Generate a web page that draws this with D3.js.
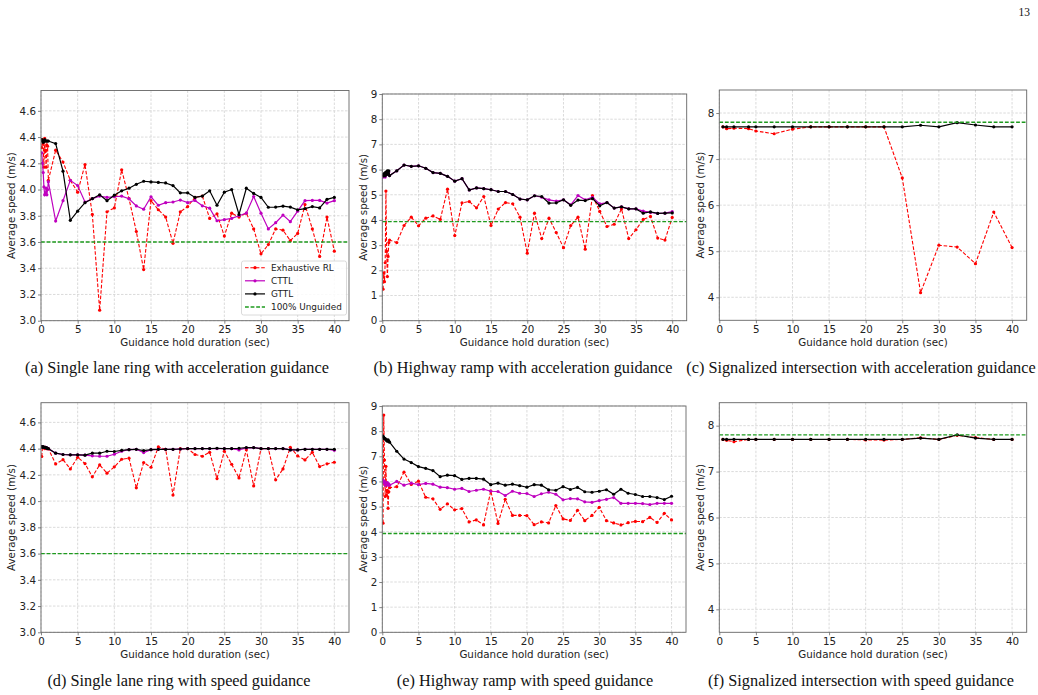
<!DOCTYPE html>
<html>
<head>
<meta charset="utf-8">
<script src="https://cdn.jsdelivr.net/npm/d3@7"></script>
<style>
body { margin: 0; background: #fff; }
</style>
</head>
<body>
<script>
// x positions (guidance hold duration, sec)
var xDense = [0.1, 0.2, 0.3, 0.4, 0.5, 0.6, 0.7, 0.8, 0.9,
  1, 2, 3, 4, 5, 6, 7, 8, 9, 10, 11, 12, 13, 14, 15, 16, 17, 18, 19, 20,
  21, 22, 23, 24, 25, 26, 27, 28, 29, 30, 31, 32, 33, 34, 35, 36, 37, 38, 39, 40];
var xSignal = [0.5, 1, 2, 4, 5, 7.5, 10, 12.5, 15, 17.5, 20, 22.5, 25, 27.5, 30, 32.5, 35, 37.5, 40];

// (a) ring, acceleration guidance
var ringAccRL = [4.32, 4.38, 4.35, 4.17, 4.39, 4.30, 4.17, 4.34, 4.33,
  4.07, 4.30, 4.21, 4.07, 3.98, 4.19, 3.81, 3.08, 3.83, 3.86,
  4.15, 3.93, 3.68, 3.39, 3.915, 3.846, 3.79, 3.59, 3.83, 3.87,
  3.94, 3.95, 3.78, 3.815, 3.645, 3.82, 3.79, 3.82, 3.70, 3.51,
  3.58, 3.70, 3.69, 3.61, 3.665, 3.885, 3.70, 3.49, 3.79, 3.53];
var ringAccCTTL = [4.28, 4.20, 4.13, 4.02, 3.96, 3.97, 4.01, 3.96, 4.00,
  4.06, 3.76, 3.915, 4.07, 4.03, 3.905, 3.93, 3.95, 3.94, 3.945,
  3.95, 3.93, 3.875, 3.85, 3.945, 3.88, 3.90, 3.905, 3.92, 3.90,
  3.917, 3.876, 3.858, 3.762, 3.77, 3.78, 3.80, 3.82, 3.947, 3.82,
  3.70, 3.747, 3.805, 3.755, 3.835, 3.915, 3.917, 3.917, 3.897, 3.915];
var ringAccGTTL = [4.38, 4.37, 4.36, 4.37, 4.38, 4.37, 4.37, 4.37, 4.37,
  4.37, 4.35, 4.14, 3.765, 3.835, 3.90, 3.93, 3.96, 3.915, 3.957,
  3.99, 4.01, 4.04, 4.063, 4.058, 4.054, 4.05, 4.03, 3.975, 3.975,
  3.94, 3.95, 3.99, 3.88, 3.98, 4.00, 3.81, 4.01, 3.97, 3.94,
  3.865, 3.866, 3.873, 3.866, 3.845, 3.855, 3.87, 3.86, 3.925, 3.94];

// (b) highway ramp, acceleration guidance
var rampAccRL = [1.25, 1.9, 1.55, 2.3, 5.15, 2.75, 1.75, 2.55, 3.1,
  3.2, 3.1, 3.78, 4.11, 3.77, 4.07, 4.16, 4.02, 5.22, 3.38,
  4.68, 4.73, 4.48, 4.93, 3.78, 4.43, 4.69, 4.64, 4.11, 2.68,
  4.27, 3.26, 4.07, 3.50, 2.90, 3.78, 4.11, 2.84, 4.97, 4.34,
  3.74, 3.83, 4.44, 3.26, 3.61, 4.02, 4.14, 3.28, 3.20, 4.10];
var rampAccCTTL = [5.7, 5.75, 5.8, 5.7, 5.85, 5.8, 5.9, 5.85, 5.9,
  5.76, 5.95, 6.18, 6.13, 6.15, 6.05, 5.88, 5.85, 5.73, 5.54,
  5.64, 5.19, 5.27, 5.24, 5.20, 5.13, 5.13, 5.01, 4.83, 4.80,
  4.96, 4.90, 4.80, 4.75, 4.80, 4.60, 4.97, 4.80, 4.90, 4.64,
  4.69, 4.47, 4.52, 4.44, 4.44, 4.35, 4.30, 4.26, 4.27, 4.33];
var rampAccGTTL = [5.8, 5.75, 5.85, 5.75, 5.9, 5.8, 5.95, 5.85, 5.95,
  5.76, 5.95, 6.18, 6.13, 6.15, 6.05, 5.88, 5.85, 5.73, 5.54,
  5.64, 5.19, 5.27, 5.24, 5.20, 5.13, 5.13, 5.01, 4.83, 4.80,
  4.96, 4.93, 4.67, 4.68, 4.80, 4.58, 4.79, 4.77, 4.85, 4.56,
  4.69, 4.47, 4.52, 4.44, 4.44, 4.27, 4.32, 4.26, 4.27, 4.28];

// (c) signalized intersection, acceleration guidance
var sigAccRL = [7.70, 7.66, 7.67, 7.66, 7.61, 7.55, 7.65, 7.70, 7.70, 7.70,
  7.70, 7.70, 6.59, 4.10, 5.13, 5.09, 4.73, 5.85, 5.08];
var sigAccGTTL = [7.70, 7.70, 7.70, 7.70, 7.70, 7.70, 7.70, 7.70, 7.70, 7.70,
  7.70, 7.70, 7.70, 7.735, 7.70, 7.79, 7.74, 7.70, 7.70];

// (d) ring, speed guidance
var ringSpdRL = [4.34, 4.41, 4.41, 4.41, 4.40, 4.41, 4.40, 4.40, 4.40,
  4.40, 4.283, 4.316, 4.245, 4.334, 4.286, 4.185, 4.276, 4.213, 4.261,
  4.319, 4.327, 4.101, 4.294, 4.258, 4.413, 4.395, 4.046, 4.40, 4.40,
  4.355, 4.342, 4.372, 4.172, 4.38, 4.281, 4.177, 4.392, 4.116, 4.40,
  4.40, 4.162, 4.245, 4.41, 4.344, 4.314, 4.372, 4.263, 4.284, 4.296];
var ringSpdCTTL = [4.415, 4.41, 4.41, 4.41, 4.41, 4.41, 4.405, 4.405, 4.40,
  4.40, 4.365, 4.355, 4.353, 4.353, 4.35, 4.345, 4.342, 4.342, 4.357,
  4.38, 4.392, 4.395, 4.37, 4.392, 4.395, 4.395, 4.395, 4.397, 4.40,
  4.40, 4.40, 4.40, 4.40, 4.40, 4.40, 4.39, 4.405, 4.408, 4.40,
  4.40, 4.40, 4.40, 4.39, 4.39, 4.395, 4.395, 4.395, 4.395, 4.387];
var ringSpdGTTL = [4.415, 4.41, 4.415, 4.41, 4.41, 4.41, 4.405, 4.405, 4.40,
  4.40, 4.365, 4.355, 4.353, 4.353, 4.35, 4.365, 4.365, 4.38, 4.378,
  4.387, 4.392, 4.395, 4.385, 4.392, 4.395, 4.395, 4.395, 4.397, 4.40,
  4.40, 4.40, 4.40, 4.403, 4.40, 4.40, 4.403, 4.408, 4.408, 4.40,
  4.40, 4.40, 4.40, 4.39, 4.39, 4.395, 4.395, 4.395, 4.395, 4.395];

// (e) highway ramp, speed guidance
var rampSpdRL = [4.34, 8.64, 6.85, 5.4, 6.6, 5.45, 5.65, 4.93, 5.59,
  5.75, 5.79, 6.37, 5.88, 6.01, 5.37, 5.31, 4.89, 5.11, 4.87,
  4.92, 4.39, 4.47, 4.27, 5.63, 4.33, 5.29, 4.65, 4.65, 4.64,
  4.28, 4.39, 4.35, 5.04, 4.51, 4.45, 4.85, 4.44, 4.65, 4.97,
  4.44, 4.35, 4.27, 4.36, 4.41, 4.40, 4.57, 4.37, 4.73, 4.47];
var rampSpdCTTL = [6.05, 5.95, 6.0, 5.85, 5.95, 5.9, 5.95, 5.85, 5.9,
  5.85, 6.0, 5.85, 5.93, 5.87, 5.92, 5.89, 5.77, 5.75, 5.69,
  5.72, 5.60, 5.65, 5.69, 5.61, 5.60, 5.44, 5.61, 5.53, 5.52,
  5.40, 5.51, 5.57, 5.49, 5.27, 5.32, 5.31, 5.19, 5.17, 5.24,
  5.29, 5.36, 5.13, 5.13, 5.13, 5.12, 5.08, 5.13, 5.13, 5.13];
var rampSpdGTTL = [7.8, 7.75, 7.7, 7.7, 7.65, 7.65, 7.6, 7.65, 7.6,
  7.56, 7.2, 6.89, 6.75, 6.59, 6.52, 6.43, 6.19, 6.25, 6.23,
  6.08, 6.12, 6.12, 6.09, 5.87, 5.93, 5.85, 5.89, 5.83, 5.77,
  5.87, 5.85, 5.67, 5.65, 5.79, 5.68, 5.76, 5.59, 5.57, 5.61,
  5.67, 5.49, 5.69, 5.53, 5.48, 5.40, 5.40, 5.36, 5.28, 5.41];

// (f) signalized intersection, speed guidance
var sigSpdRL = [7.70, 7.68, 7.65, 7.70, 7.70, 7.70, 7.70, 7.70, 7.70, 7.70,
  7.69, 7.685, 7.70, 7.735, 7.70, 7.79, 7.74, 7.70, 7.70];
var sigSpdGTTL = [7.70, 7.70, 7.70, 7.70, 7.70, 7.70, 7.70, 7.70, 7.70, 7.70,
  7.70, 7.70, 7.70, 7.73, 7.70, 7.80, 7.73, 7.70, 7.70];

// 100% unguided reference speeds
var unguided = { a: 3.6, b: 3.93, c: 7.80, d: 3.6, e: 3.93, f: 7.80 };

var xTicks = [0, 5, 10, 15, 20, 25, 30, 35, 40];
var ringTicks = [3.0, 3.2, 3.4, 3.6, 3.8, 4.0, 4.2, 4.4, 4.6];
var rampTicks = [0, 1, 2, 3, 4, 5, 6, 7, 8, 9];
var sigTicks = [4, 5, 6, 7, 8];

var legendNames = ['Exhaustive RL', 'CTTL', 'GTTL', '100% Unguided'];

var captions = {
  a: '(a) Single lane ring with acceleration guidance',
  b: '(b) Highway ramp with acceleration guidance',
  c: '(c) Signalized intersection with acceleration guidance',
  d: '(d) Single lane ring with speed guidance',
  e: '(e) Highway ramp with speed guidance',
  f: '(f) Signalized intersection with speed guidance'
};

var styles = {
  rl:   { color: '#ff0000', dash: '3.6,1.8', marker: true, w: 1.1 },
  cttl: { color: '#bf00bf', dash: null, marker: true, w: 1.2 },
  gttl: { color: '#000000', dash: null, marker: true, w: 1.2 },
  ung:  { color: '#1e9a1e', dash: '3.8,1.8', marker: false, w: 1.3 }
};

var FONT = 'DejaVu Sans, sans-serif';
var SERIF = 'Liberation Serif, Times New Roman, serif';

var svg = d3.select('body').append('svg')
  .attr('width', 1038)
  .attr('height', 695)
  .style('background', '#fff');

svg.append('text')
  .attr('x', 1030).attr('y', 15.5)
  .attr('text-anchor', 'end')
  .attr('font-family', SERIF)
  .attr('font-size', 11.5)
  .attr('fill', '#111')
  .text('13');

var panels = [
  { id: 'a', l: 41, r: 349, t: 90.5, b: 320.7, ylim: [3.0, 4.755], ticks: ringTicks, fmt: '.1f', ylab: 12, cap: 177, capY: 373,
    series: [[xDense, ringAccRL, 'rl'], [xDense, ringAccCTTL, 'cttl'], [xDense, ringAccGTTL, 'gttl']], legend: true },
  { id: 'b', l: 382.3, r: 686.7, t: 94, b: 320.7, ylim: [0, 9], ticks: rampTicks, fmt: 'd', ylab: 364.5, cap: 523, capY: 373,
    series: [[xDense, rampAccRL, 'rl'], [xDense, rampAccCTTL, 'cttl'], [xDense, rampAccGTTL, 'gttl']] },
  { id: 'c', l: 719.3, r: 1026.7, t: 90, b: 320.3, ylim: [3.5, 8.5], ticks: sigTicks, fmt: 'd', ylab: 701.5, cap: 861, capY: 373,
    series: [[xSignal, sigAccRL, 'rl'], [xSignal, sigAccGTTL, 'gttl']] },
  { id: 'd', l: 41, r: 349, t: 402.7, b: 632.3, ylim: [3.0, 4.75], ticks: ringTicks, fmt: '.1f', ylab: 12, cap: 179, capY: 686,
    series: [[xDense, ringSpdRL, 'rl'], [xDense, ringSpdCTTL, 'cttl'], [xDense, ringSpdGTTL, 'gttl']] },
  { id: 'e', l: 382.3, r: 686, t: 406, b: 632.3, ylim: [0, 9], ticks: rampTicks, fmt: 'd', ylab: 364, cap: 525, capY: 686,
    series: [[xDense, rampSpdRL, 'rl'], [xDense, rampSpdCTTL, 'cttl'], [xDense, rampSpdGTTL, 'gttl']] },
  { id: 'f', l: 719.3, r: 1026.7, t: 402.7, b: 632.3, ylim: [3.5, 8.5], ticks: sigTicks, fmt: 'd', ylab: 701, cap: 861, capY: 686,
    series: [[xSignal, sigSpdRL, 'rl'], [xSignal, sigSpdGTTL, 'gttl']] }
];

panels.forEach(function(p) {
  var x = d3.scaleLinear().domain([0, 42]).range([p.l, p.r]);
  var y = d3.scaleLinear().domain(p.ylim).range([p.b, p.t]);
  var g = svg.append('g');

  // grid
  g.selectAll('.gx').data(xTicks).enter().append('line')
    .attr('x1', function(d) { return x(d); }).attr('x2', function(d) { return x(d); })
    .attr('y1', p.t).attr('y2', p.b)
    .attr('stroke', '#d2d2d2').attr('stroke-width', 0.8).attr('stroke-dasharray', '2.5,1.5');
  g.selectAll('.gy').data(p.ticks).enter().append('line')
    .attr('x1', p.l).attr('x2', p.r)
    .attr('y1', function(d) { return y(d); }).attr('y2', function(d) { return y(d); })
    .attr('stroke', '#d2d2d2').attr('stroke-width', 0.8).attr('stroke-dasharray', '2.5,1.5');

  var clipId = 'clip-' + p.id;
  g.append('clipPath').attr('id', clipId).append('rect')
    .attr('x', p.l).attr('y', p.t).attr('width', p.r - p.l).attr('height', p.b - p.t);
  var plot = g.append('g').attr('clip-path', 'url(#' + clipId + ')');

  var line = d3.line().x(function(d) { return x(d[0]); }).y(function(d) { return y(d[1]); });

  p.series.forEach(function(s) {
    var st = styles[s[2]];
    var pts = s[0].map(function(v, i) { return [v, s[1][i]]; });
    plot.append('path').datum(pts)
      .attr('d', line)
      .attr('fill', 'none')
      .attr('stroke', st.color)
      .attr('stroke-width', st.w)
      .attr('stroke-dasharray', st.dash);
    plot.selectAll(null).data(pts).enter().append('circle')
      .attr('cx', function(d) { return x(d[0]); })
      .attr('cy', function(d) { return y(d[1]); })
      .attr('r', 1.6)
      .attr('fill', st.color);
  });

  // unguided reference
  plot.append('line')
    .attr('x1', p.l).attr('x2', p.r)
    .attr('y1', y(unguided[p.id])).attr('y2', y(unguided[p.id]))
    .attr('stroke', styles.ung.color).attr('stroke-width', styles.ung.w)
    .attr('stroke-dasharray', styles.ung.dash);

  // frame
  g.append('rect')
    .attr('x', p.l).attr('y', p.t).attr('width', p.r - p.l).attr('height', p.b - p.t)
    .attr('fill', 'none').attr('stroke', '#666').attr('stroke-width', 0.9);

  var xAxis = g.append('g').attr('transform', 'translate(0,' + p.b + ')')
    .call(d3.axisBottom(x).tickValues(xTicks).tickSize(3).tickPadding(2).tickSizeOuter(0));
  var yAxis = g.append('g').attr('transform', 'translate(' + p.l + ',0)')
    .call(d3.axisLeft(y).tickValues(p.ticks).tickFormat(d3.format(p.fmt)).tickSize(3).tickPadding(2).tickSizeOuter(0));
  [xAxis, yAxis].forEach(function(ax) {
    ax.select('.domain').remove();
    ax.selectAll('line').attr('stroke', '#666').attr('stroke-width', 0.8);
    ax.selectAll('text').attr('font-family', FONT).attr('font-size', 10.3).attr('fill', '#222');
  });

  g.append('text')
    .attr('x', (p.l + p.r) / 2).attr('y', p.b + 25.5)
    .attr('text-anchor', 'middle')
    .attr('font-family', FONT).attr('font-size', 10.3).attr('fill', '#222')
    .text('Guidance hold duration (sec)');
  g.append('text')
    .attr('transform', 'translate(' + (p.ylab + 2.6) + ',' + ((p.t + p.b) / 2) + ') rotate(-90)')
    .attr('text-anchor', 'middle')
    .attr('font-family', FONT).attr('font-size', 10.3).attr('fill', '#222')
    .text('Average speed (m/s)');

  svg.append('text')
    .attr('x', p.cap).attr('y', p.capY)
    .attr('text-anchor', 'middle')
    .attr('font-family', SERIF).attr('font-size', 16.3).attr('fill', '#111')
    .text(captions[p.id]);

  if (p.legend) {
    var lg = g.append('g');
    lg.append('rect')
      .attr('x', 241.5).attr('y', 261).attr('width', 105).attr('height', 54)
      .attr('rx', 2).attr('fill', '#fff').attr('fill-opacity', 0.85)
      .attr('stroke', '#d0d0d0').attr('stroke-width', 0.8);
    var keys = ['rl', 'cttl', 'gttl', 'ung'];
    keys.forEach(function(k, i) {
      var st = styles[k];
      var cy = 267.7 + i * 13.1;
      lg.append('line')
        .attr('x1', 245).attr('x2', 265).attr('y1', cy).attr('y2', cy)
        .attr('stroke', st.color).attr('stroke-width', st.w)
        .attr('stroke-dasharray', st.dash);
      if (st.marker) {
        lg.append('circle').attr('cx', 255).attr('cy', cy).attr('r', 1.6).attr('fill', st.color);
      }
      lg.append('text')
        .attr('x', 271).attr('y', cy + 3.2)
        .attr('font-family', FONT).attr('font-size', 8.9).attr('fill', '#222')
        .text(legendNames[i]);
    });
  }
});
</script>
</body>
</html>
